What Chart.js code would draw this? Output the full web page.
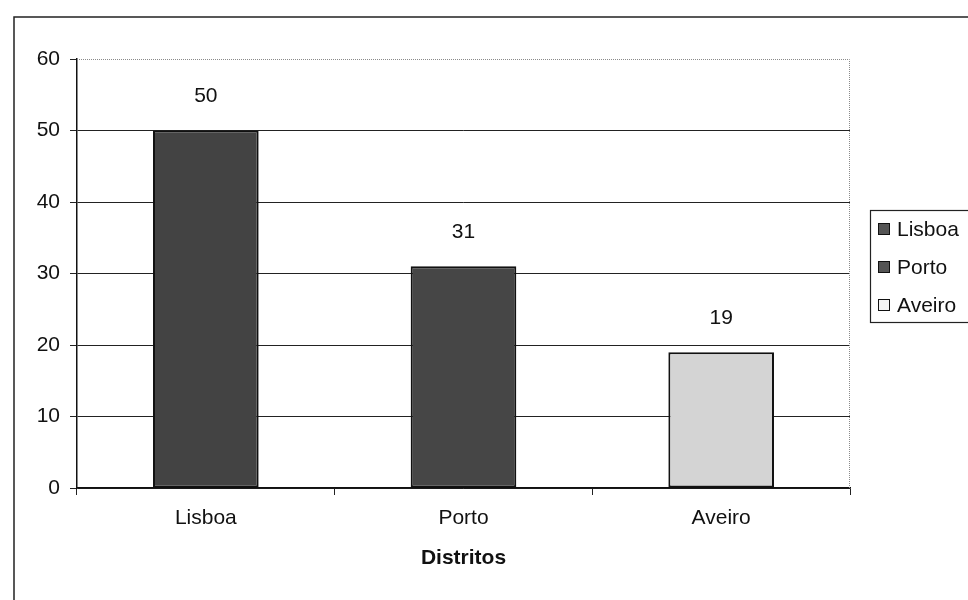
<!DOCTYPE html>
<html>
<head>
<meta charset="utf-8">
<script src="https://cdn.jsdelivr.net/npm/chart.js@4"></script>
<style>
  html, body { margin: 0; padding: 0; background: #fff; }
  #wrap { width: 968px; height: 600px; position: relative; }
</style>
</head>
<body>
<div id="wrap"><canvas id="distChart" width="968" height="600"></canvas></div>
<script>
const categories = ['Lisboa', 'Porto', 'Aveiro'];
const values = [50, 31, 19];
const barColors = ['#434343', '#464646', '#d4d4d4'];
const legendColors = ['#555555', '#555555', '#f4f4f4'];
const yTicks = [0, 10, 20, 30, 40, 50, 60];
const xTitle = 'Distritos';

const FONT = "'Liberation Sans', Arial, sans-serif";
const FSIZE = 21;

// moldura exterior, borda do gráfico e legenda à direita
const framePlugin = {
    id: 'frame',
    afterDraw(chart) {
        const ctx = chart.ctx;
        const a = chart.chartArea;
        ctx.save();
        // moldura exterior (apenas esquerda e topo visíveis)
        ctx.strokeStyle = '#222';
        ctx.lineWidth = 1.5;
        ctx.beginPath();
        ctx.moveTo(14, 600);
        ctx.lineTo(14, 17);
        ctx.lineTo(968, 17);
        ctx.stroke();

        // borda pontilhada da área do gráfico (topo e direita)
        ctx.strokeStyle = '#8a8a8a';
        ctx.lineWidth = 1;
        ctx.setLineDash([1, 1]);
        ctx.beginPath();
        ctx.moveTo(a.left, a.top + 0.5);
        ctx.lineTo(a.right - 0.5, a.top + 0.5);
        ctx.lineTo(a.right - 0.5, a.bottom);
        ctx.stroke();
        ctx.setLineDash([]);

        // caixa da legenda
        ctx.strokeStyle = '#222';
        ctx.lineWidth = 1.2;
        ctx.strokeRect(870.5, 210.5, 120, 112);

        ctx.font = FSIZE + 'px ' + FONT;
        ctx.textBaseline = 'middle';
        ctx.textAlign = 'left';
        categories.forEach((name, i) => {
            const y = 229 + i * 38;
            ctx.fillStyle = legendColors[i];
            ctx.fillRect(878, y - 6, 12, 12);
            ctx.strokeStyle = '#111';
            ctx.lineWidth = 1;
            ctx.strokeRect(878.5, y - 5.5, 11, 11);
            ctx.fillStyle = '#111';
            ctx.fillText(name, 897, y + 1);
        });
        ctx.restore();
    }
};

// rótulos de valor por cima das barras
const valueLabels = {
    id: 'valueLabels',
    afterDatasetsDraw(chart) {
        const ctx = chart.ctx;
        const meta = chart.getDatasetMeta(0);
        ctx.save();
        ctx.font = FSIZE + 'px ' + FONT;
        ctx.fillStyle = '#111';
        ctx.textAlign = 'center';
        ctx.textBaseline = 'middle';
        meta.data.forEach((bar, i) => {
            ctx.fillText(String(values[i]), bar.x, bar.y - 34);
        });
        ctx.restore();
    }
};

const ctxDist = document.getElementById('distChart').getContext('2d');
new Chart(ctxDist, {
    type: 'bar',
    data: {
        labels: categories,
        datasets: [{
            label: xTitle,
            data: values,
            backgroundColor: barColors,
            borderColor: '#111',
            borderWidth: 2,
            borderSkipped: false,
            categoryPercentage: 1,
            barPercentage: 0.41
        }]
    },
    options: {
        responsive: false,
        animation: false,
        devicePixelRatio: 1,
        layout: { padding: { left: 0, right: 118, top: 59, bottom: 0 } },
        plugins: {
            legend: { display: false },
            tooltip: { enabled: false }
        },
        scales: {
            y: {
                min: 0,
                max: 60,
                afterBuildTicks(scale) { scale.ticks = yTicks.map(v => ({ value: v })); },
                afterFit(scale) { scale.width = 77; },
                ticks: {
                    color: '#111',
                    font: { family: FONT, size: FSIZE },
                    padding: 10
                },
                grid: {
                    color: ctx => ctx.tick && ctx.tick.value === 60 ? 'rgba(0,0,0,0)' : '#222',
                    tickColor: '#222',
                    lineWidth: 1,
                    tickLength: 7
                },
                border: { color: '#111', width: 1.5 }
            },
            x: {
                afterFit(scale) { scale.height = 112; },
                ticks: {
                    color: '#111',
                    font: { family: FONT, size: FSIZE },
                    padding: 11
                },
                grid: {
                    drawOnChartArea: false,
                    offset: true,
                    tickColor: '#222',
                    tickLength: 7
                },
                border: { color: '#111', width: 1.5 },
                title: {
                    display: true,
                    text: xTitle,
                    color: '#111',
                    font: { family: FONT, size: FSIZE, weight: 'bold' },
                    padding: { top: 0, bottom: 29 }
                }
            }
        }
    },
    plugins: [framePlugin, valueLabels]
});
</script>
</body>
</html>
